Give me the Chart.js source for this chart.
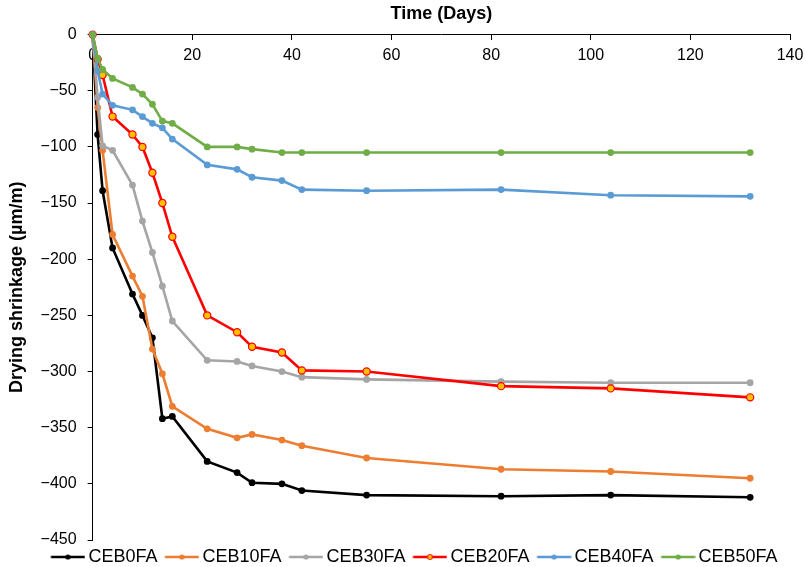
<!DOCTYPE html>
<html>
<head>
<meta charset="utf-8">
<title>Drying shrinkage</title>
<script src="https://cdn.jsdelivr.net/npm/chart.js@4/dist/chart.umd.min.js"></script>
<style>
  html, body { margin: 0; padding: 0; background: #fff; }
</style>
</head>
<body>
<canvas id="shrinkChart" width="805" height="567"></canvas>
<script>
// measurement ages (days) shared by every mix
const days = [0, 1, 2, 4, 8, 10, 12, 14, 16, 23, 29, 32, 38, 42, 55, 82, 104, 132];

// drying shrinkage in µm/m
const ceb0fa  = [0, -89, -139, -190, -231, -250, -270, -342, -340, -380, -390, -399, -400, -406, -410, -411, -410, -412];
const ceb10fa = [0, -65, -103, -178, -215, -233, -280, -302, -331, -351, -359, -356, -361, -366, -377, -387, -389, -395];
const ceb30fa = [0, -56, -99, -103, -134, -166, -194, -224, -255, -290, -291, -295, -300, -305, -307, -309, -310, -310];
const ceb20fa = [0, -22, -36, -73, -89, -100, -123, -150, -180, -250, -265, -278, -283, -299, -300, -313, -315, -323];
const ceb40fa = [0, -32, -53, -63, -67, -73, -79, -83, -93, -116, -120, -127, -130, -138, -139, -138, -143, -144];
const ceb50fa = [0, -21, -31, -39, -47, -53, -62, -77, -79, -100, -100, -102, -105, -105, -105, -105, -105, -105];

const seriesNames = ['CEB0FA', 'CEB10FA', 'CEB30FA', 'CEB20FA', 'CEB40FA', 'CEB50FA'];
const seriesData = [ceb0fa, ceb10fa, ceb30fa, ceb20fa, ceb40fa, ceb50fa];
const lineColors = ['#000000', '#ED7D31', '#A5A5A5', '#FF0000', '#5B9BD5', '#70AD47'];
const dotColors  = ['#000000', '#ED7D31', '#A5A5A5', '#FFC000', '#5B9BD5', '#70AD47'];

const xTicks = { min: 0, max: 140, step: 20 };
const yTicks = { min: -450, max: 0, step: 50 };

Chart.defaults.font.family = "'Liberation Sans', Arial, sans-serif";
Chart.defaults.color = '#000';

// little "line with a dot" icons for the legend
function makeLegendIcon(line, dot) {
  const c = document.createElement('canvas');
  c.width = 40;
  c.height = 10;
  const g = c.getContext('2d');
  g.strokeStyle = line;
  g.lineWidth = 2.5;
  g.beginPath();
  g.moveTo(5.5, 5);
  g.lineTo(39.5, 5);
  g.stroke();
  g.beginPath();
  g.arc(22.5, 5, 2.6, 0, Math.PI * 2);
  g.fillStyle = dot;
  g.fill();
  if (dot !== line) {
    g.lineWidth = 1;
    g.stroke();
  }
  return c;
}
const legendIcons = seriesNames.map((n, i) => makeLegendIcon(lineColors[i], dotColors[i]));

const datasets = seriesNames.map((name, i) => ({
  label: name,
  data: days.map((d, j) => ({ x: d, y: seriesData[i][j] })),
  borderColor: lineColors[i],
  backgroundColor: dotColors[i],
  pointBackgroundColor: dotColors[i],
  pointBorderColor: lineColors[i],
  pointBorderWidth: i === 3 ? 1.2 : 0,
  pointRadius: i === 3 ? 3.6 : 3.4,
  borderWidth: 2.6,
  tension: 0,
  clip: false,
  order: seriesNames.length - i // later series sit on top
}));

// shift the legend row a little to the right
const legendNudge = {
  id: 'legendNudge',
  afterLayout(chart) {
    chart.legend.left += 9;
    chart.legend.right += 9;
  }
};

new Chart(document.getElementById('shrinkChart'), {
  type: 'line',
  data: { datasets },
  plugins: [legendNudge],
  options: {
    responsive: false,
    animation: false,
    layout: { padding: { left: 6, right: 0, top: 0, bottom: -9 } },
    scales: {
      x: {
        type: 'linear',
        position: { y: 0 },
        min: xTicks.min,
        max: xTicks.max,
        ticks: { stepSize: xTicks.step, font: { size: 16 }, padding: 6, color: '#000' },
        grid: { drawOnChartArea: false, drawTicks: true, tickLength: 5, color: '#000' },
        border: { display: true, color: '#000', width: 1 },
        afterFit(scale) {
          scale.paddingRight = 15;
        }
      },
      y: {
        type: 'linear',
        min: yTicks.min,
        max: yTicks.max,
        ticks: {
          stepSize: yTicks.step,
          font: { size: 16 },
          padding: 11,
          color: '#000',
          callback: v => (v < 0 ? '\u2212' + Math.abs(v) : String(v))
        },
        grid: { drawOnChartArea: false, drawTicks: true, tickLength: 5, color: '#000' },
        border: { display: true, color: '#000', width: 1 },
        title: {
          display: true,
          text: 'Drying shrinkage (µm/m)',
          font: { size: 18, weight: 'bold' },
          color: '#000',
          padding: { top: 0, bottom: 2 }
        }
      }
    },
    plugins: {
      title: {
        display: true,
        text: 'Time (Days)',
        fullSize: false,
        font: { size: 18, weight: 'bold' },
        color: '#000',
        padding: { top: 3, bottom: 10 }
      },
      legend: {
        position: 'bottom',
        labels: {
          usePointStyle: true,
          pointStyleWidth: 28,
          padding: 8,
          font: { size: 18 },
          color: '#000',
          generateLabels(chart) {
            const items = Chart.defaults.plugins.legend.labels.generateLabels(chart);
            items.forEach(it => { it.pointStyle = legendIcons[it.datasetIndex]; });
            return items.sort((a, b) => a.datasetIndex - b.datasetIndex);
          }
        }
      },
      tooltip: { enabled: false }
    }
  }
});
</script>
</body>
</html>
